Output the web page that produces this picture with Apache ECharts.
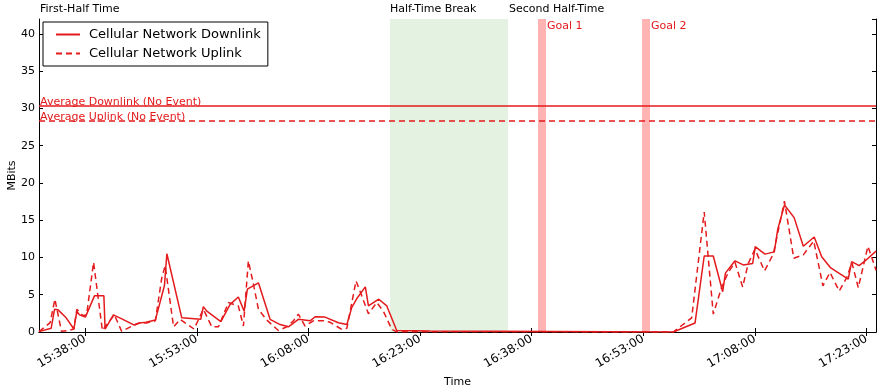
<!DOCTYPE html>
<html>
<head>
<meta charset="utf-8">
<script src="https://cdn.jsdelivr.net/npm/echarts@6/dist/echarts.min.js"></script>
<style>
html, body {margin: 0; padding: 0; background: #fff;}
#main {width: 877px; height: 388px;}
</style>
</head>
<body>
<div id="main"></div>
<script>
// 下行 / 上行 流量 (MBits)
var downTimes = ['15:31:48','15:33:26','15:33:53','15:34:20','15:35:27','15:36:29','15:36:53','15:37:14','15:38:02','15:39:15',
    '15:40:31','15:40:41','15:41:48','15:43:04','15:44:32','15:45:17','15:46:11','15:47:26','15:48:39','15:48:59',
    '15:50:59','15:53:32','15:53:53','15:54:21','15:56:14','15:57:29','15:58:35','15:59:22','15:59:48','16:01:17',
    '16:02:51','16:04:12','16:05:19','16:06:39','16:08:14','16:08:54','16:10:14','16:12:02','16:13:10','16:13:50',
    '16:14:35','16:15:39','16:16:04','16:17:27','16:18:32','16:19:52','16:24:21','16:57:02','16:59:57','17:01:11',
    '17:02:24','17:03:40','17:04:02','17:05:19','17:06:26','17:07:42','17:08:02','17:09:21','17:10:36','17:11:04',
    '17:11:58','17:13:16','17:14:30','17:15:58','17:16:58','17:18:11','17:20:32','17:21:00','17:22:00','17:22:59',
    '17:24:16'];
var downValues = [0.05, 0.5, 3.05, 3.0, 1.9, 0.4, 2.8, 2.3, 2.0, 4.85,
    4.85, 0.4, 2.3, 1.7, 0.95, 1.2, 1.3, 1.6, 6.2, 10.5,
    1.9, 1.7, 3.4, 2.8, 1.4, 3.7, 4.7, 2.8, 5.75, 6.6,
    1.7, 1.0, 0.7, 1.7, 1.5, 2.05, 2.0, 1.25, 1.0, 3.3,
    4.6, 6.05, 3.5, 4.4, 3.5, 0.2, 0.15, 0.0, 1.2, 10.2,
    10.2, 5.4, 7.9, 9.55, 9.0, 9.2, 11.45, 10.45, 10.75, 13.8,
    17.05, 15.35, 11.5, 12.75, 10.1, 8.6, 7.1, 9.45, 8.9, 9.7,
    10.85];

var upTimes = ['15:31:48','15:33:18','15:33:56','15:34:49','15:35:43','15:36:29','15:36:53','15:37:41','15:38:12','15:39:08',
    '15:40:19','15:40:49','15:41:56','15:42:54','15:43:08','15:44:32','15:45:17','15:46:11','15:47:26','15:48:18',
    '15:48:45','15:49:53','15:50:46','15:52:38','15:53:53','15:55:01','15:55:55','15:57:15','15:58:35','15:59:16',
    '15:59:56','16:00:37','16:01:17','16:02:25','16:03:58','16:05:06','16:05:59','16:06:39','16:07:33','16:08:40',
    '16:10:01','16:10:55','16:12:29','16:13:10','16:14:24','16:15:10','16:16:04','16:17:11','16:18:04','16:19:12',
    '16:19:47','16:57:02','16:59:30','17:01:11','17:02:24','17:03:32','17:04:25','17:05:19','17:06:21','17:07:06',
    '17:08:00','17:09:17','17:10:28','17:11:58','17:13:13','17:14:30','17:15:54','17:17:08','17:18:05','17:19:19',
    '17:20:20','17:21:02','17:21:53','17:23:11','17:24:16'];
var upValues = [0.05, 1.25, 4.4, 0.1, 0.2, 0.4, 3.05, 2.2, 2.3, 9.35,
    0.2, 0.9, 2.3, 0.1, 0.05, 0.9, 1.2, 1.2, 1.5, 7.3,
    8.9, 0.7, 1.7, 0.4, 3.05, 0.7, 0.7, 3.95, 3.5, 0.8,
    9.55, 6.4, 3.05, 1.6, 0.2, 0.7, 1.5, 2.4, 0.8, 1.5,
    1.5, 1.3, 0.35, 0.5, 6.85, 4.85, 2.45, 3.95, 2.8, 0.35,
    0.05, 0.0, 1.9, 16.1, 2.4, 6.0, 8.0, 9.35, 6.05, 9.2,
    11.1, 8.2, 10.45, 17.55, 9.9, 10.35, 12.2, 6.2, 8.0, 5.5,
    7.3, 9.3, 5.95, 11.5, 8.3];

// 无事件时的平均值
var avgNames = ['Average Downlink (No Event)', 'Average Uplink (No Event)'];
var avgValues = [30.4, 28.4];

// 比赛阶段与进球
var halfNames = ['First-Half Time', 'Half-Time Break', 'Second Half-Time'];
var breakPeriod = ['16:18:58', '16:34:49'];
var goalNames = ['Goal 1', 'Goal 2'];
var goalPeriods = [['16:38:51', '16:39:56'], ['16:52:50', '16:53:54']];

var xTickLabels = ['15:38:00','15:53:00','16:08:00','16:23:00','16:38:00','16:53:00','17:08:00','17:23:00'];
var yMax = 42;

var RED = '#e41a1c';
var FONT = 'DejaVu Sans';

function toMin(t) {
    var p = t.split(':');
    return (+p[0]) * 60 + (+p[1]) + (+p[2]) / 60;
}
function pairs(ts, vs) {
    return ts.map(function (t, i) { return [toMin(t), vs[i]]; });
}

var xMin = toMin(downTimes[0]);
var xMax = toMin(downTimes[downTimes.length - 1]);
var tickVals = xTickLabels.map(toMin);

function tickFormatter(v) {
    for (var i = 0; i < tickVals.length; i++) {
        if (Math.abs(tickVals[i] - v) < 1e-6) return xTickLabels[i];
    }
    return '';
}

var topLabel = function (text, offsetX) {
    return {show: true, position: [offsetX, -15], color: '#000', fontSize: 11, fontFamily: FONT, formatter: text};
};

var areaData = [
    [{xAxis: xMin, itemStyle: {color: 'rgba(0,0,0,0)'}, label: topLabel(halfNames[0], 1)}, {xAxis: toMin(breakPeriod[0])}],
    [{xAxis: toMin(breakPeriod[0]), itemStyle: {color: '#e4f2e2'}, label: topLabel(halfNames[1], 0)}, {xAxis: toMin(breakPeriod[1])}],
    [{xAxis: toMin(breakPeriod[1]), itemStyle: {color: 'rgba(0,0,0,0)'}, label: topLabel(halfNames[2], 1)}, {xAxis: xMax}]
];
goalPeriods.forEach(function (g, i) {
    areaData.push([
        {xAxis: toMin(g[0]), itemStyle: {color: '#ffb3b3'},
         label: {show: true, position: [9, 2], color: RED, fontSize: 11, fontFamily: FONT, formatter: goalNames[i]}},
        {xAxis: toMin(g[1])}
    ]);
});

function avgLine(i, type) {
    return {
        symbol: ['none', 'none'], silent: true,
        lineStyle: {color: RED, width: 1.5, type: type},
        label: {position: 'insideStartTop', formatter: '{b}', color: RED, fontSize: 11, fontFamily: FONT, distance: [1, -2]},
        data: [{yAxis: avgValues[i], name: avgNames[i]}]
    };
}

var option = {
    animation: false,
    textStyle: {fontFamily: FONT},
    grid: {left: 39, right: 1, top: 19, bottom: 56, outerBoundsMode: 'none', containLabel: false},
    legend: {
        orient: 'vertical', left: 43, top: 22,
        data: ['Cellular Network Downlink', 'Cellular Network Uplink'],
        itemWidth: 24, itemHeight: 14, itemGap: 6,
        padding: [6, 7, 6, 12],
        borderColor: '#000', borderWidth: 1, borderRadius: 0, backgroundColor: '#fff',
        itemStyle: {opacity: 0},
        textStyle: {fontSize: 13, color: '#000', fontFamily: FONT, padding: [0, 0, 0, 4]}
    },
    xAxis: [{
        type: 'value', min: xMin, max: xMax,
        name: 'Time', nameLocation: 'middle', nameGap: 44,
        nameTextStyle: {fontSize: 11, color: '#000'},
        axisLine: {lineStyle: {color: '#000', width: 1}},
        axisTick: {inside: true, length: 4, lineStyle: {color: '#000'}, customValues: tickVals},
        axisLabel: {customValues: tickVals, formatter: tickFormatter, rotate: 30, fontSize: 12, color: '#000', margin: 6},
        splitLine: {show: false}
    }, {
        type: 'value', min: xMin, max: xMax, position: 'top',
        axisLine: {lineStyle: {color: '#000', width: 1}},
        axisTick: {inside: true, length: 4, lineStyle: {color: '#000'}, customValues: tickVals},
        axisLabel: {show: false},
        splitLine: {show: false}
    }],
    yAxis: [{
        type: 'value', min: 0, max: yMax, interval: 5,
        name: 'MBits', nameLocation: 'middle', nameGap: 21, nameMoveOverlap: false,
        nameTextStyle: {fontSize: 11, color: '#000'},
        axisLine: {show: true, lineStyle: {color: '#000', width: 1}},
        axisTick: {show: true, inside: true, length: 4, lineStyle: {color: '#000'}},
        axisLabel: {fontSize: 11, color: '#000', margin: 4, showMaxLabel: false},
        splitLine: {show: false}
    }, {
        type: 'value', min: 0, max: yMax, interval: 5, position: 'right',
        axisLine: {show: true, lineStyle: {color: '#000', width: 1}},
        axisTick: {show: true, inside: true, length: 4, lineStyle: {color: '#000'}},
        axisLabel: {show: false},
        splitLine: {show: false}
    }],
    series: [
        {
            type: 'line', data: [], clip: false, silent: true,
            markArea: {silent: true, data: areaData}
        },
        {
            name: 'Cellular Network Downlink', type: 'line', symbol: 'none',
            lineStyle: {color: RED, width: 1.5, type: 'solid'},
            itemStyle: {color: RED},
            data: pairs(downTimes, downValues),
            markLine: avgLine(0, 'solid')
        },
        {
            name: 'Cellular Network Uplink', type: 'line', symbol: 'none',
            lineStyle: {color: RED, width: 1.5, type: [6, 4]},
            itemStyle: {color: RED},
            data: pairs(upTimes, upValues),
            markLine: avgLine(1, [6, 4])
        }
    ]
};

var myChart = echarts.init(document.getElementById('main'));
myChart.setOption(option);
</script>
</body>
</html>
